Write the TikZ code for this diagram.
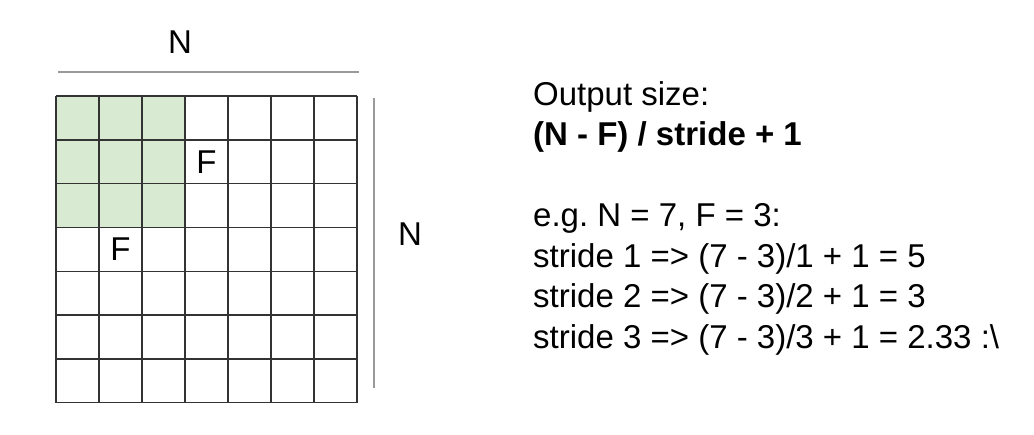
\documentclass[tikz,border=0pt]{standalone}
\usepackage{fontspec}
\setmainfont{Liberation Sans}
\usetikzlibrary{positioning}
\definecolor{filtergreen}{HTML}{D9EAD3}
\definecolor{dimgray}{HTML}{9A9A9A}
\definecolor{gridgray}{HTML}{333333}
\frenchspacing

\begin{document}
\begin{tikzpicture}[x=1pt, y=-1pt, font=\fontsize{33}{40}\selectfont,
  gridline/.style={line width=1.4pt, gridgray},
  dimline/.style={line width=2pt, dimgray},
  lbl/.style={inner sep=0pt},
  txt/.style={inner sep=0pt, anchor=base west}]
 \fill[white] (0,0) rectangle (1034,434);
 % input volume, 7 x 7 with the 3 x 3 filter
 \begin{scope}[shift={(56pt,-96pt)}, x=43pt, y=-43.8pt]
  \fill[filtergreen] (0,0) rectangle (3,3);
  \foreach \i in {0,...,7} {
    \draw[gridline] (\i,0) -- (\i,7);
    \draw[gridline] (0,\i) -- (7,\i);
  }
  \node[lbl] (fwide) at (3.5,1.5) {F};
  \node[lbl] (fhigh) at (1.5,3.5) {F};
 \end{scope}
 % size marks
 \coordinate (topleft) at (58,72);
 \coordinate (topright) at (359,72);
 \coordinate (sidetop) at (374,98);
 \coordinate (sidebottom) at (374,388);
 \draw[dimline] (topleft) -- (topright);
 \draw[dimline] (sidetop) -- (sidebottom);
 \node[lbl] (ntop) at (180,42) {N};
 \node[lbl] (nside) at (410,234.5) {N};
 % formula
 \node[txt] (outsize) at (533,105) {Output size:};
 \node[txt] (formula) at (533,145) {\bfseries (N - F) / stride + 1};
 \node[txt] (example) at (533,226) {e.g. N = 7, F = 3:};
 \node[txt] (strideone) at (533,267) {stride 1 => (7 - 3)/1 + 1 = 5};
 \node[txt] (stridetwo) at (533,307) {stride 2 => (7 - 3)/2 + 1 = 3};
 \node[txt] (stridethree) at (533,348) {stride 3 => (7 - 3)/3 + 1 = 2.33 :\textbackslash};
\end{tikzpicture}
\end{document}
